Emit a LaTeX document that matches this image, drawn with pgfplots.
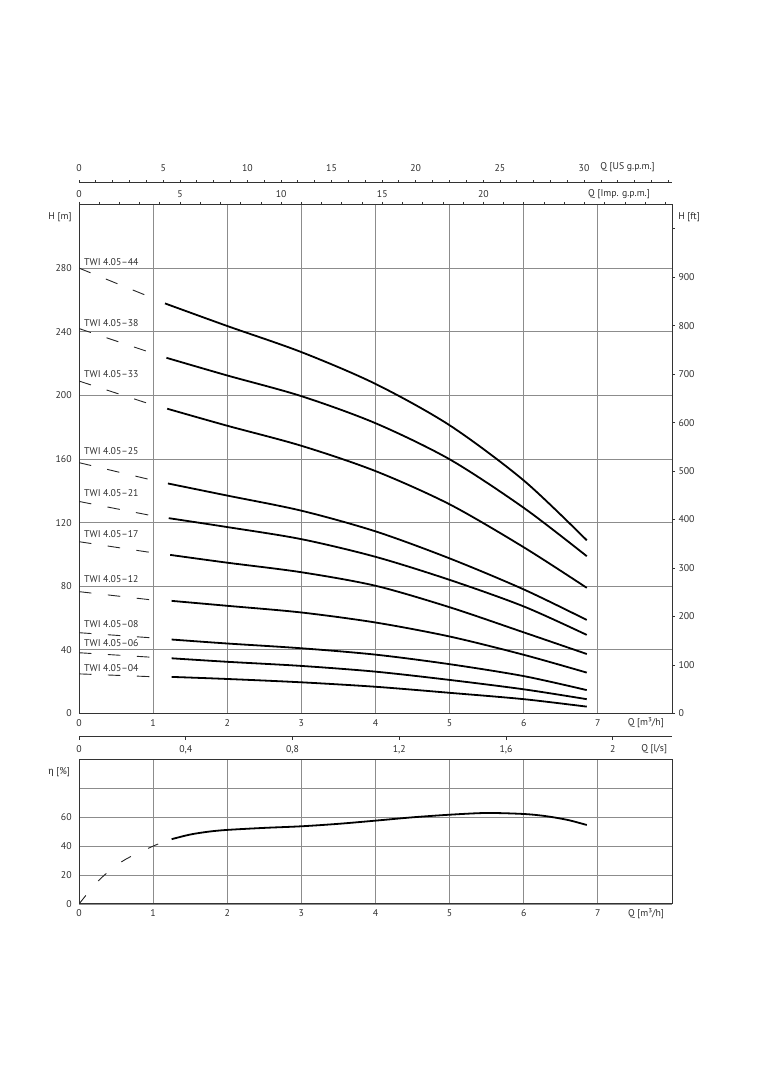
\documentclass[border=0pt]{standalone}
\usepackage{fontspec}
\setmainfont{PT Sans}
\newfontfamily\grk{Fira Sans}
\usepackage{pgfplots}
\pgfplotsset{compat=1.18}
\definecolor{txt}{gray}{0.18}
\pgfplotsset{
  base/.style={
    scale only axis, width=593bp,
    font=\fontsize{9.8bp}{11bp}\selectfont\color{txt},
    /pgf/number format/assume math mode=true,
    /pgf/number format/use comma,
    xmin=0, xmax=8,
  },
  frame/.style={
    grid=major, major grid style={black!45, line width=0.8bp},
    axis line style={black!80, line width=1bp},
    major tick length=0pt,
  },
  scale/.style={
    hide y axis, ymin=0, ymax=1, height=10bp,
    axis line style={-, black!80, line width=0.9bp},
    every tick/.style={black!80, line width=0.8bp},
  },
  curve/.style={black, line width=1.8bp, smooth},
  dsh/.style={black!85, line width=0.9bp, dash pattern=on 12.5bp off 16.5bp},
}
\begin{document}
\begin{tikzpicture}[x=1bp,y=1bp]
\path[use as bounding box] (0,0) rectangle (763,1080);

% ---------- main H-Q axis ----------
\begin{axis}[base, frame, at={(79bp,366.5bp)}, anchor=south west, height=509bp,
  ymin=0, ymax=320,
  xtick={0,1,2,3,4,5,6,7,8}, xticklabels={0,1,2,3,4,5,6,7,{}},
  ytick={0,40,80,120,160,200,240,280},
  yticklabels={0,40,80,120,160,200,240,280},
  xticklabel style={yshift=-2.5bp}, yticklabel style={xshift=-3.8bp}]
% dashed extrapolations
\addplot[dsh] coordinates {(0,280) (0.95,262)};
\addplot[dsh] coordinates {(0,242) (0.96,227)};
\addplot[dsh] coordinates {(0,209) (0.96,194.5)};
\addplot[dsh] coordinates {(0,157.7) (0.98,146.8)};
\addplot[dsh] coordinates {(0,133.3) (0.98,124.4)};
\addplot[dsh] coordinates {(0,108) (1.0,101)};
\addplot[dsh] coordinates {(0,76.6) (1.0,71.3)};
\addplot[dsh] coordinates {(0,50.8) (1.0,47.5)};
\addplot[dsh] coordinates {(0,38.2) (1.0,35.3)};
\addplot[dsh] coordinates {(0,24.9) (1.0,23.1)};
% TWI 4.05-44
\addplot[curve] coordinates {(1.16,257.8) (2,243.6) (3,227.2) (4,207.2) (5,181.2) (6,146.5) (6.85,108.9)};
% TWI 4.05-38
\addplot[curve] coordinates {(1.18,223.6) (2,212.5) (3,199.5) (4,182.5) (5,159.8) (6,129.3) (6.85,98.9)};
% TWI 4.05-33
\addplot[curve] coordinates {(1.19,191.6) (2,180.9) (3,168.3) (4,152.4) (5,131.5) (6,104.5) (6.85,79)};
% TWI 4.05-25
\addplot[curve] coordinates {(1.2,144.6) (2,137) (3,127.5) (4,114.5) (5,97.5) (6,78) (6.85,58.8)};
% TWI 4.05-21
\addplot[curve] coordinates {(1.21,122.8) (2,117.2) (3,109.6) (4,98.5) (5,84) (6,67.3) (6.85,49.4)};
% TWI 4.05-17
\addplot[curve] coordinates {(1.23,99.7) (2,94.8) (3,88.8) (4,80.3) (5,66.8) (6,51) (6.85,37.4)};
% TWI 4.05-12
\addplot[curve] coordinates {(1.25,70.8) (2,67.7) (3,63.5) (4,57.2) (5,48.4) (6,36.9) (6.85,25.7)};
% TWI 4.05-08
\addplot[curve] coordinates {(1.25,46.5) (2,44) (3,41) (4,37) (5,31) (6,23.5) (6.85,14.7)};
% TWI 4.05-06
\addplot[curve] coordinates {(1.25,34.7) (2,32.5) (3,29.9) (4,26.3) (5,21.1) (6,15.2) (6.85,9)};
% TWI 4.05-04
\addplot[curve] coordinates {(1.25,23) (2,21.7) (3,19.6) (4,16.8) (5,13) (6,9) (6.85,4.3)};
\end{axis}

% ---------- right ft axis ----------
\begin{axis}[base, at={(79bp,366.5bp)}, anchor=south west, height=509bp,
  ymin=0, ymax=1049.87, hide x axis,
  every non boxed y axis/.append style={y axis line style={-}, tick align=outside},
  axis y line=right, tick align=outside,
  axis line style={-, black!80, line width=1bp},
  every tick/.style={black!80, line width=0.8bp}, major tick length=3bp,
  ytick={0,100,200,300,400,500,600,700,800,900,1000},
  yticklabels={0,100,200,300,400,500,600,700,800,900,{}}]
\addplot[draw=none] coordinates {(0,0)};
\end{axis}

% ---------- US gpm scale ----------
\begin{axis}[base, scale, at={(79bp,897.3bp)}, anchor=north west,
  xmin=0, xmax=35.2229,
  every non boxed x axis/.append style={x axis line style={-}, tick align=outside},
  axis x line=top, tick align=outside,
  major tick length=2.5bp, minor tick length=2.5bp,
  xtick={0,5,10,15,20,25,30}, minor xtick={0,1,...,35},
  xticklabel style={yshift=5.5bp}]
\addplot[draw=none] coordinates {(0,0)};
\end{axis}

% ---------- Imp gpm scale ----------
\begin{axis}[base, scale, at={(79bp,875.5bp)}, anchor=north west,
  xmin=0, xmax=29.3292,
  every non boxed x axis/.append style={x axis line style={-}, tick align=outside},
  axis x line=top, tick align=outside,
  major tick length=2.5bp, minor tick length=2.5bp,
  xtick={0,5,10,15,20}, minor xtick={0,1,...,29},
  xticklabel style={yshift=1bp}]
\addplot[draw=none] coordinates {(0,0)};
\end{axis}

% ---------- l/s scale ----------
\begin{axis}[base, scale, at={(79bp,343.3bp)}, anchor=south west,
  xmin=0, xmax=2.22222,
  every non boxed x axis/.append style={x axis line style={-}, tick align=outside},
  axis x line=bottom, tick align=outside,
  major tick length=3.3bp,
  xtick={0,0.4,0.8,1.2,1.6,2}, xticklabels={0,{0,4},{0,8},{1,2},{1,6},2},
  xticklabel style={yshift=-2.3bp}]
\addplot[draw=none] coordinates {(0,0)};
\end{axis}

% ---------- efficiency axis ----------
\begin{axis}[base, frame, at={(79bp,176bp)}, anchor=south west, height=144.7bp,
  ymin=0, ymax=100,
  xtick={0,1,2,3,4,5,6,7,8}, xticklabels={0,1,2,3,4,5,6,7,{}},
  ytick={0,20,40,60,80}, yticklabels={0,20,40,60,{}},
  xticklabel style={yshift=-2.3bp}, yticklabel style={xshift=-3.8bp}]
\addplot[black!85, line width=0.9bp, smooth, dash pattern=on 11bp off 19bp]
  coordinates {(0,0) (0.28,17) (0.6,30) (1,40) (1.15,43)};
\addplot[curve] coordinates {(1.25,44.8) (1.5,48) (1.75,50) (2,51.2) (2.5,52.6) (3,53.7) (3.5,55.4) (4,57.6) (4.5,59.9) (5,61.7) (5.5,62.9) (6,62.2) (6.3,60.7) (6.6,58) (6.85,54.6)};
\end{axis}

% ---------- texts ----------
\begin{scope}[every node/.style={font=\fontsize{9.8bp}{11bp}\selectfont, text=txt, inner sep=0pt}]
\node[anchor=west] at (84,818.3) {TWI 4.05–44};
\node[anchor=west] at (84,757.3) {TWI 4.05–38};
\node[anchor=west] at (84,706) {TWI 4.05–33};
\node[anchor=west] at (84,629) {TWI 4.05–25};
\node[anchor=west] at (84,586.7) {TWI 4.05–21};
\node[anchor=west] at (84,546) {TWI 4.05–17};
\node[anchor=west] at (84,500.7) {TWI 4.05–12};
\node[anchor=west] at (84,456) {TWI 4.05–08};
\node[anchor=west] at (84,436.7) {TWI 4.05–06};
\node[anchor=west] at (84,411.7) {TWI 4.05–04};
\node at (60,862.3) {H [m]};
\node at (689,863.3) {H [ft]};
\node at (627.5,913.3) {Q [US g.p.m.]};
\node at (619,885.7) {Q [Imp. g.p.m.]};
\node at (645.8,357) {Q [m³/h]};
\node at (654.2,331) {Q [l/s]};
\node at (59,308) {{\grk η} [\%]};
\node at (646,166.7) {Q [m³/h]};
\end{scope}
\end{tikzpicture}
\end{document}
